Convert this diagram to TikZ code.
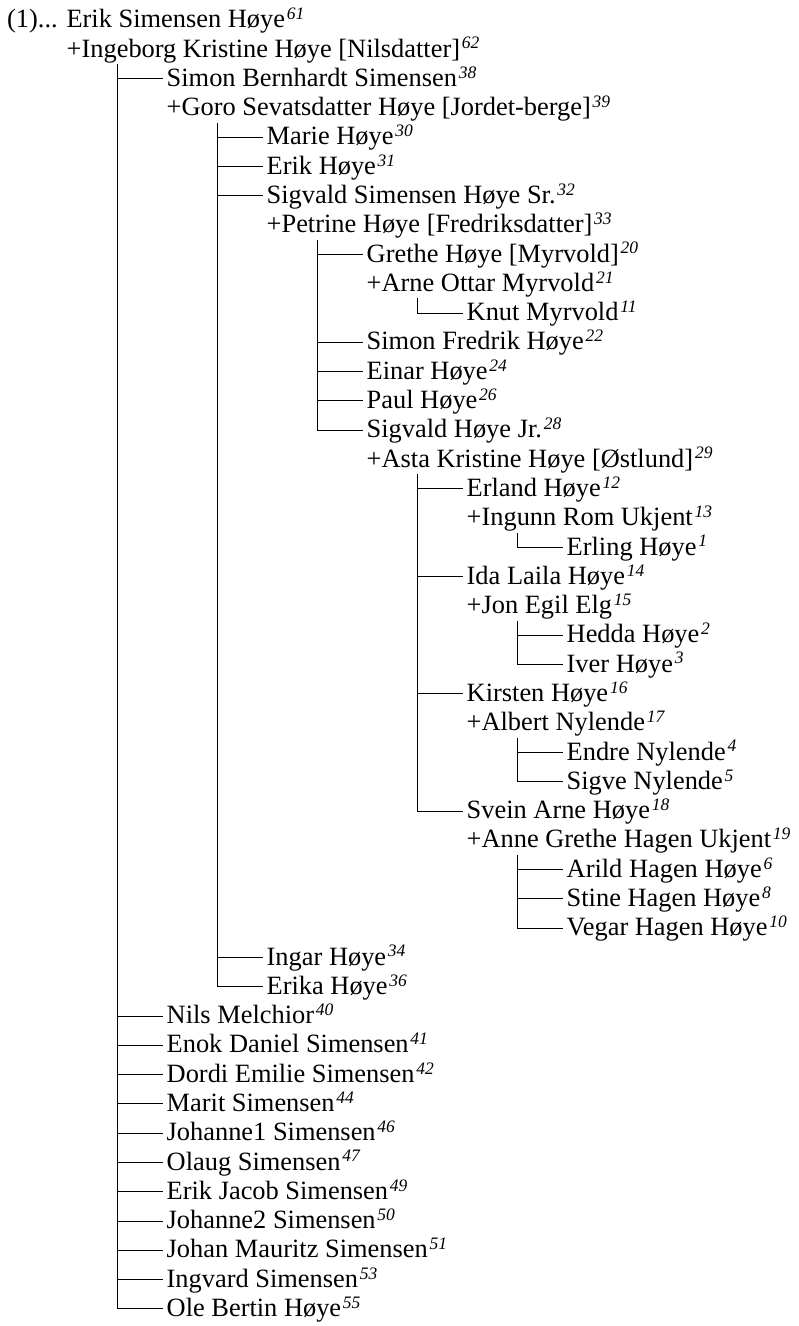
\documentclass[tikz,border=0pt]{standalone}
\usepackage{fontspec}
\setmainfont{Liberation Serif}
\newcommand\sups[1]{\kern1.8pt\raisebox{8.2pt}{\fontsize{17.5}{17.5}\selectfont\itshape #1}}
\newcommand\pers[5]{\node[lbl] (#1) at (#3, {20.2+(#2-1)*29.29}) {#4\sups{#5}};}
\tikzset{
  lbl/.style={anchor=west, inner sep=0pt, text height=20pt, text depth=4.8pt,
              font=\fontsize{26.4}{30}\selectfont},
  conn/.style={line width=1pt, line cap=rect},
}
\newcommand\famgrp[1]{\coordinate (v#1) at ([xshift=50.5pt,yshift=-15pt]#1.west);}
\newcommand\kid[2]{\draw[conn] (v#1 |- #2.west) -- ([xshift=-4.5pt]#2.west);}
\newcommand\lastkid[2]{\draw[conn] (v#1) |- ([xshift=-4.5pt]#2.west);}
\begin{document}
\begin{tikzpicture}[x=1pt,y=-1pt]
\useasboundingbox (0,0) rectangle (799,1326);
\pers{erik}{1}{7}{(1)... Erik Simensen Høye}{61}
\pers{ingeborg}{2}{66.5}{+Ingeborg Kristine Høye [Nilsdatter]}{62}
\pers{simonb}{3}{166.5}{Simon Bernhardt Simensen}{38}
\pers{goro}{4}{166.5}{+Goro Sevatsdatter Høye [Jordet-berge]}{39}
\pers{marie}{5}{266.5}{Marie Høye}{30}
\pers{erikh}{6}{266.5}{Erik Høye}{31}
\pers{sigsr}{7}{266.5}{Sigvald Simensen Høye Sr.}{32}
\pers{petrine}{8}{266.5}{+Petrine Høye [Fredriksdatter]}{33}
\pers{grethe}{9}{366.5}{Grethe Høye [Myrvold]}{20}
\pers{arne}{10}{366.5}{+Arne Ottar Myrvold}{21}
\pers{knut}{11}{466.5}{Knut Myrvold}{11}
\pers{simonf}{12}{366.5}{Simon Fredrik Høye}{22}
\pers{einar}{13}{366.5}{Einar Høye}{24}
\pers{paul}{14}{366.5}{Paul Høye}{26}
\pers{sigjr}{15}{366.5}{Sigvald Høye Jr.}{28}
\pers{asta}{16}{366.5}{+Asta Kristine Høye [Østlund]}{29}
\pers{erland}{17}{466.5}{Erland Høye}{12}
\pers{ingunn}{18}{466.5}{+Ingunn Rom Ukjent}{13}
\pers{erling}{19}{566.5}{Erling Høye}{1}
\pers{ida}{20}{466.5}{Ida Laila Høye}{14}
\pers{jon}{21}{466.5}{+Jon Egil Elg}{15}
\pers{hedda}{22}{566.5}{Hedda Høye}{2}
\pers{iver}{23}{566.5}{Iver Høye}{3}
\pers{kirsten}{24}{466.5}{Kirsten Høye}{16}
\pers{albert}{25}{466.5}{+Albert Nylende}{17}
\pers{endre}{26}{566.5}{Endre Nylende}{4}
\pers{sigve}{27}{566.5}{Sigve Nylende}{5}
\pers{svein}{28}{466.5}{Svein Arne Høye}{18}
\pers{anne}{29}{466.5}{+Anne Grethe Hagen Ukjent}{19}
\pers{arild}{30}{566.5}{Arild Hagen Høye}{6}
\pers{stine}{31}{566.5}{Stine Hagen Høye}{8}
\pers{vegar}{32}{566.5}{Vegar Hagen Høye}{10}
\pers{ingar}{33}{266.5}{Ingar Høye}{34}
\pers{erika}{34}{266.5}{Erika Høye}{36}
\pers{nils}{35}{166.5}{Nils Melchior}{40}
\pers{enok}{36}{166.5}{Enok Daniel Simensen}{41}
\pers{dordi}{37}{166.5}{Dordi Emilie Simensen}{42}
\pers{marit}{38}{166.5}{Marit Simensen}{44}
\pers{joh1}{39}{166.5}{Johanne1 Simensen}{46}
\pers{olaug}{40}{166.5}{Olaug Simensen}{47}
\pers{erikj}{41}{166.5}{Erik Jacob Simensen}{49}
\pers{joh2}{42}{166.5}{Johanne2 Simensen}{50}
\pers{johan}{43}{166.5}{Johan Mauritz Simensen}{51}
\pers{ingvard}{44}{166.5}{Ingvard Simensen}{53}
\pers{ole}{45}{166.5}{Ole Bertin Høye}{55}
% families
\famgrp{ingeborg}
\kid{ingeborg}{simonb}
\foreach \k in {nils,enok,dordi,marit,joh1,olaug,erikj,joh2,johan,ingvard} {\kid{ingeborg}{\k}}
\lastkid{ingeborg}{ole}
\famgrp{goro}
\foreach \k in {marie,erikh,sigsr,ingar} {\kid{goro}{\k}}
\lastkid{goro}{erika}
\famgrp{petrine}
\foreach \k in {grethe,simonf,einar,paul} {\kid{petrine}{\k}}
\lastkid{petrine}{sigjr}
\famgrp{arne}
\lastkid{arne}{knut}
\famgrp{asta}
\foreach \k in {erland,ida,kirsten} {\kid{asta}{\k}}
\lastkid{asta}{svein}
\famgrp{ingunn}
\lastkid{ingunn}{erling}
\famgrp{jon}
\kid{jon}{hedda}
\lastkid{jon}{iver}
\famgrp{albert}
\kid{albert}{endre}
\lastkid{albert}{sigve}
\famgrp{anne}
\foreach \k in {arild,stine} {\kid{anne}{\k}}
\lastkid{anne}{vegar}
\end{tikzpicture}
\end{document}
